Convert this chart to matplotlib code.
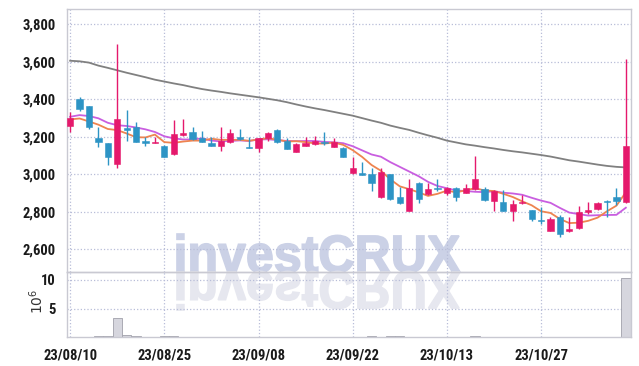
import numpy as np
import matplotlib as mpl
import matplotlib.pyplot as plt
from matplotlib import font_manager
from matplotlib.textpath import TextPath
from matplotlib.patches import PathPatch
from matplotlib.font_manager import FontProperties
from matplotlib.transforms import Affine2D, IdentityTransform
from matplotlib.ticker import StrMethodFormatter

# 좁은 글꼴이 있으면 사용, 없으면 Liberation Sans
label_font = 'Liberation Sans'
label_size = 9.5
for name in ['Liberation Sans Narrow', 'Roboto Condensed', 'Open Sans Condensed', 'Noto Sans Condensed']:
    try:
        font_manager.findfont(FontProperties(family=name), fallback_to_default=False)
        label_font = name
        label_size = 10.5
        break
    except Exception:
        pass
mpl.rcParams['font.family'] = [label_font, 'DejaVu Sans']

# 일봉 데이터 (23/08/10 ~ 23/11/09)
opens = [3260, 3400, 3365, 3195, 3165, 3055, 3245, 3255, 3180, 3168,
         3150, 3110, 3208, 3225, 3192, 3168, 3153, 3170, 3199, 3146,
         3142, 3192, 3235, 3178, 3121, 3153, 3160, 3175, 3148, 3140,
         3005, 3004, 3002, 2877, 3002, 2880, 2806, 2955, 2895, 2927,
         2902, 2925, 2900, 2920, 2920, 2860, 2850, 2806, 2845, 2810,
         2753, 2700, 2770, 2697, 2712, 2798, 2813, 2856, 2877, 2851]
highs = [3335, 3410, 3365, 3255, 3165, 3695, 3345, 3280, 3200, 3200,
         3155, 3290, 3295, 3252, 3233, 3198, 3250, 3240, 3242, 3198,
         3195, 3226, 3242, 3195, 3165, 3197, 3205, 3224, 3195, 3148,
         3092, 3065, 3035, 3032, 3002, 2935, 2973, 2960, 2955, 2975,
         2934, 2934, 2948, 3098, 2930, 2915, 2916, 2863, 2890, 2812,
         2827, 2775, 2783, 2775, 2833, 2855, 2855, 2863, 2925, 3615]
lows = [3225, 3340, 3240, 3145, 3050, 3035, 3178, 3170, 3150, 3165,
        3090, 3105, 3205, 3185, 3170, 3152, 3123, 3168, 3183, 3142,
        3117, 3180, 3165, 3133, 3118, 3150, 3158, 3156, 3145, 3090,
        3003, 2998, 2911, 2875, 2863, 2843, 2805, 2845, 2892, 2913,
        2890, 2860, 2898, 2915, 2860, 2806, 2805, 2751, 2840, 2750,
        2733, 2698, 2667, 2695, 2710, 2788, 2810, 2771, 2836, 2848]
closes = [3300, 3350, 3250, 3170, 3090, 3295, 3235, 3175, 3165, 3172,
          3095, 3215, 3220, 3188, 3175, 3153, 3180, 3220, 3188, 3143,
          3192, 3220, 3175, 3135, 3160, 3165, 3180, 3168, 3172, 3095,
          3032, 3000, 2952, 3014, 2868, 2845, 2925, 2868, 2920, 2923,
          2929, 2880, 2925, 2973, 2863, 2913, 2806, 2842, 2854, 2762,
          2750, 2762, 2682, 2707, 2797, 2810, 2848, 2852, 2860, 3150]

# 이동평균선
ma5 = [3293, 3298, 3282, 3265, 3242, 3236, 3218, 3198, 3197, 3212,
       3172, 3168, 3175, 3180, 3180, 3190, 3184, 3184, 3184, 3179,
       3186, 3193, 3185, 3175, 3177, 3172, 3165, 3164, 3170, 3157,
       3129, 3093, 3050, 3019, 2973, 2936, 2921, 2904, 2885, 2896,
       2913, 2904, 2915, 2926, 2914, 2911, 2896, 2879, 2856, 2835,
       2803, 2794, 2762, 2740, 2742, 2752, 2769, 2803, 2833, 2904]
ma10 = [3307, 3316, 3311, 3299, 3275, 3262, 3258, 3250, 3240, 3226,
        3203, 3192, 3186, 3186, 3192, 3180, 3176, 3178, 3181, 3178,
        3186, 3187, 3183, 3178, 3177, 3178, 3178, 3173, 3171, 3166,
        3150, 3128, 3106, 3094, 3065, 3040, 3015, 2990, 2960, 2938,
        2926, 2914, 2911, 2907, 2905, 2910, 2902, 2898, 2891, 2875,
        2860, 2848, 2821, 2796, 2788, 2780, 2782, 2783, 2784, 2822]
ma60 = [3606, 3603, 3596, 3580, 3568, 3555, 3542, 3530, 3518, 3505,
        3495, 3485, 3476, 3465, 3455, 3447, 3440, 3432, 3425, 3418,
        3411, 3403, 3395, 3385, 3373, 3362, 3352, 3343, 3333, 3323,
        3313, 3300, 3287, 3275, 3260, 3248, 3237, 3222, 3208, 3195,
        3180, 3170, 3160, 3153, 3145, 3138, 3130, 3123, 3117, 3110,
        3103, 3095, 3085, 3075, 3068, 3060, 3052, 3045, 3040, 3037]

# 거래량 (단위 10^6)
volume = [0.05, 0.03, 0.03, 0.25, 0.25, 3.3, 0.4, 0.2, 0.05, 0.04,
          0.2, 0.2, 0.05, 0.04, 0.04, 0.05, 0.04, 0.04, 0.05, 0.04,
          0.04, 0.05, 0.04, 0.04, 0.05, 0.04, 0.04, 0.05, 0.04, 0.05,
          0.06, 0.05, 0.15, 0.06, 0.15, 0.1, 0.05, 0.05, 0.04, 0.04,
          0.04, 0.05, 0.05, 0.2, 0.06, 0.05, 0.05, 0.05, 0.04, 0.05,
          0.04, 0.05, 0.06, 0.04, 0.05, 0.05, 0.05, 0.05, 0.05, 10.4]

date_labels = ['23/08/10', '23/08/25', '23/09/08', '23/09/22', '23/10/13', '23/10/27']
price_ticks = [2600, 2800, 3000, 3200, 3400, 3600, 3800]
vol_ticks = [5, 10]

UP = '#e5196c'
DOWN = '#2d94c5'
GRID = '#b8bdd8'
SPINE = '#c9c9d2'

o = np.array(opens); h = np.array(highs); l = np.array(lows); c = np.array(closes)
x = np.arange(len(o))

fig = plt.figure(figsize=(6.39, 3.66), dpi=100, facecolor='white')
ax = fig.add_axes([0.1049, 0.2568, 0.8826, 0.7186])
axv = fig.add_axes([0.1049, 0.0792, 0.8826, 0.1776], sharex=ax)

# 워터마크 (반사 효과 포함)
fp = FontProperties(family='Liberation Sans', weight='bold')
tp = TextPath((0, 0), 'investCRUX', size=1, prop=fp)
bb = tp.get_extents()
sx = 283 / bb.width
sy = 38 / bb.ymax
x0 = 177 - bb.xmin * sx
base = 366 - 272
fig.add_artist(PathPatch(tp, transform=Affine2D().scale(sx, sy).translate(x0, base) + IdentityTransform(),
                         facecolor='#cbd1e6', edgecolor='#cbd1e6', linewidth=1.2, zorder=-1))
fig.add_artist(PathPatch(tp, transform=Affine2D().scale(sx, -sy).translate(x0, base) + IdentityTransform(),
                         facecolor='#e6e7ef', edgecolor='#e6e7ef', linewidth=1.2, zorder=-1))

for a in (ax, axv):
    a.set_facecolor('none')
    a.grid(True, linestyle=':', color=GRID, linewidth=0.9)
    a.set_axisbelow(True)
    for s in a.spines.values():
        s.set_color(SPINE)
        s.set_linewidth(1.0)
    a.tick_params(length=0, labelsize=label_size, labelcolor='#1a1a1a', pad=8)

# 이동평균선
ax.plot(x, ma60, color='#808080', linewidth=1.3, zorder=2)
ax.plot(x, ma10, color='#c95ee0', linewidth=1.3, zorder=2)
ax.plot(x, ma5, color='#ee8450', linewidth=1.3, zorder=2)

# 캔들
up = c >= o
colors = np.where(up, UP, DOWN)
ax.vlines(x, l, h, colors=colors, linewidth=1.0, zorder=3)
bh = np.maximum(np.abs(c - o), 6)
bot = (o + c) / 2 - bh / 2
ax.bar(x, bh, bottom=bot, width=0.66, color=colors, edgecolor=colors, linewidth=0.4, zorder=4)

ax.set_ylim(2479, 3882)
ax.set_yticks(price_ticks)
ax.yaxis.set_major_formatter(StrMethodFormatter('{x:,.0f}'))
ax.tick_params(labelbottom=False)
ax.set_xlim(-0.33, 59.55)

# 거래량
axv.bar(x, volume, width=1.0, color='#d6d6de', edgecolor='#a0a0aa', linewidth=0.6, zorder=2)
axv.set_ylim(0, 11.4)
axv.set_yticks(vol_ticks)
axv.set_xticks(np.arange(0, 10 * len(date_labels), 10))
axv.set_xticklabels(date_labels)
axv.set_ylabel('$10^6$', fontsize=10, color='#333333', family='DejaVu Sans')
axv.yaxis.set_label_coords(-0.037, 0.55)

for a in (ax, axv):
    for t in a.get_yticklabels() + a.get_xticklabels():
        t.set_fontweight('bold')

fig.savefig('out.png', dpi=100, facecolor='white')
